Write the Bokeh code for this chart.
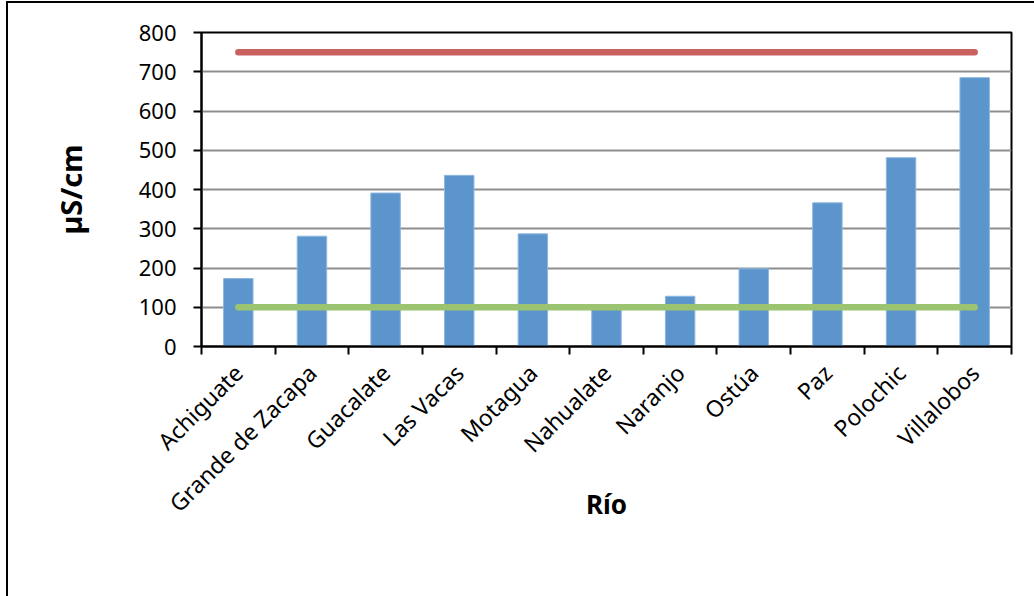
import math
from bokeh.plotting import figure
from bokeh.models import (Range1d, FixedTicker, Legend, LegendItem,
                          ColumnDataSource)
from bokeh.embed import file_html
from bokeh.resources import INLINE

# ---- data ----
categories = ["Achiguate", "Grande de Zacapa", "Guacalate", "Las Vacas", "Motagua",
              "Nahualate", "Naranjo", "Ostúa", "Paz", "Polochic", "Villalobos"]
media = [173, 281, 391, 436, 287, 97, 128, 198, 366, 481, 685]
lmp = [750, 750, 750, 750, 750, 750, 750, 750, 750, 750, 750]
lma = [100, 100, 100, 100, 100, 100, 100, 100, 100, 100, 100]
y_ticks = [0, 100, 200, 300, 400, 500, 600, 700, 800]
series_names = ["Media período 2003-2008", "LMP", "LMA"]

FONT = "Noto Sans"
BAR = "#5B95CC"
RED = "#C9625F"
GREEN = "#9CC470"

xpos = [i + 0.5 for i in range(len(categories))]
src = ColumnDataSource(dict(x=xpos, media=media, lmp=lmp, lma=lma, cat=categories))

p = figure(frame_width=810, frame_height=314, output_backend="svg",
           toolbar_location=None,
           x_range=Range1d(0, len(categories)), y_range=Range1d(0, 800),
           min_border_left=193, min_border_right=23, min_border_top=29,
           min_border_bottom=0, margin=(1, 0, 0, 6))
p.styles = {"border-left": "2px solid #000", "border-top": "2px solid #000"}
p.outline_line_color = "black"
p.outline_line_width = 2
p.background_fill_color = "white"
p.border_fill_color = "white"

# grid
p.xgrid.visible = False
p.ygrid.ticker = FixedTicker(ticks=y_ticks)
p.ygrid.grid_line_color = "#8E8E8E"
p.ygrid.grid_line_width = 2

# y axis
ya = p.yaxis[0]
ya.ticker = FixedTicker(ticks=y_ticks)
ya.axis_line_color = "black"
ya.axis_line_width = 2
ya.major_tick_line_color = "black"
ya.major_tick_line_width = 2
ya.major_tick_out = 8
ya.major_tick_in = 0
ya.minor_tick_line_color = None
ya.major_label_standoff = 17
ya.major_label_text_font = FONT
ya.major_label_text_font_size = "22px"
ya.major_label_text_color = "black"
ya.axis_label = "µS/cm"
ya.axis_label_standoff = 46
ya.axis_label_text_font = FONT
ya.axis_label_text_font_style = "bold"
ya.axis_label_text_font_size = "29px"
ya.axis_label_text_color = "black"

# x axis
xa = p.xaxis[0]
xa.ticker = FixedTicker(ticks=xpos, minor_ticks=list(range(len(categories) + 1)))
xa.major_label_overrides = {x: c for x, c in zip(xpos, categories)}
xa.axis_line_color = "black"
xa.axis_line_width = 2
xa.major_tick_line_color = None
xa.major_tick_out = 0
xa.major_tick_in = 0
xa.minor_tick_line_color = "black"
xa.minor_tick_line_width = 2
xa.minor_tick_out = 8
xa.minor_tick_in = 0
xa.major_label_orientation = math.pi / 4
xa.major_label_standoff = 14
xa.major_label_text_font = FONT
xa.major_label_text_font_size = "23px"
xa.major_label_text_color = "black"
xa.axis_label = "Río"
xa.axis_label_standoff = -47
xa.axis_label_text_font = FONT
xa.axis_label_text_font_style = "bold"
xa.axis_label_text_font_size = "26px"
xa.axis_label_text_color = "black"

# glyphs
bars = p.vbar(x="x", top="media", width=0.4, bottom=0, source=src,
              fill_color=BAR, line_color="#8DB6E0", line_width=1)
red = p.line(x="x", y="lmp", source=src, line_color=RED, line_width=6.5,
             line_cap="round")
green = p.line(x="x", y="lma", source=src, line_color=GREEN, line_width=6.5,
               line_cap="round")

legend = Legend(items=[LegendItem(label=series_names[0], renderers=[bars]),
                       LegendItem(label=series_names[1], renderers=[red]),
                       LegendItem(label=series_names[2], renderers=[green])],
                orientation="horizontal", location="left",
                glyph_width=50, glyph_height=14, label_standoff=5, spacing=53,
                padding=0, margin=0, border_line_alpha=0,
                background_fill_alpha=0,
                label_text_font=FONT, label_text_font_size="24px",
                label_text_color="black")
p.add_layout(legend, "below")

open("out.html", "w").write(file_html(p, INLINE))
